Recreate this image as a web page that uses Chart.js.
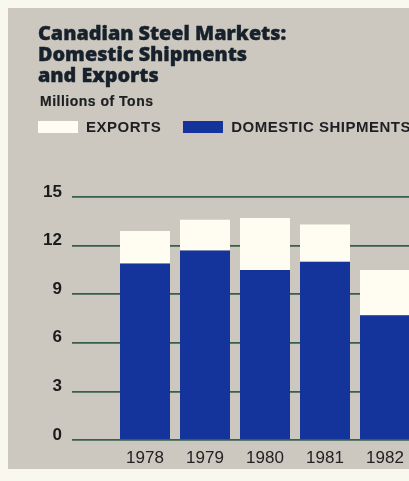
<!DOCTYPE html>
<html>
<head>
<meta charset="utf-8">
<script src="https://cdn.jsdelivr.net/npm/chart.js@4/dist/chart.umd.min.js"></script>
<style>
  html, body { margin: 0; padding: 0; width: 409px; height: 481px; overflow: hidden; background: #f9f8ee; }
  #panel { position: absolute; left: 8px; top: 8px; width: 420px; height: 461px; background: #cdc8bf; }
  #plot { position: absolute; left: 0; top: 0; }
  .title { position: absolute; left: 38px; top: 22px; font: 800 19.8px/21px "Open Sans", sans-serif; -webkit-text-stroke: 0.4px #17212c; color: #17212c; white-space: nowrap; }
  .sub { position: absolute; left: 40px; top: 92.5px; font: bold 14px/16px "Liberation Sans", sans-serif; letter-spacing: 0.5px; -webkit-text-stroke: 0.2px #1d1f22; color: #1d1f22; white-space: nowrap; }
  .legend { position: absolute; left: 38px; top: 118.5px; display: flex; align-items: center; white-space: nowrap; font: bold 15px/16px "Liberation Sans", sans-serif; letter-spacing: 0.5px; color: #1d1f22; }
  .item { display: flex; align-items: center; margin-right: 22px; }
  .sw { display: inline-block; width: 40px; height: 12px; margin-right: 8px; }
</style>
</head>
<body>
<div id="panel"></div>
<canvas id="plot" width="420" height="481"></canvas>
<div class="title">Canadian Steel Markets:<br>Domestic Shipments<br>and Exports</div>
<div class="sub">Millions of Tons</div>
<div class="legend" id="legend"></div>
<script>
// Canadian steel shipments, millions of tons
const years = ['1978', '1979', '1980', '1981', '1982'];
const domesticShipments = [10.9, 11.7, 10.5, 11.0, 7.7];
const exportShipments = [2.0, 1.9, 3.2, 2.3, 2.8];
const yTicks = [0, 3, 6, 9, 12, 15];

const BLUE = '#14349c';
const CREAM = '#fffdf1';
const GRID = '#36604c';

const chart = new Chart(document.getElementById('plot'), {
  type: 'bar',
  data: {
    labels: years,
    datasets: [
      { label: 'DOMESTIC SHIPMENTS', data: domesticShipments, backgroundColor: BLUE },
      { label: 'EXPORTS', data: exportShipments, backgroundColor: CREAM }
    ]
  },
  options: {
    responsive: false,
    animation: false,
    layout: { autoPadding: false, padding: { top: 197, left: 0, right: 5, bottom: 0 } },
    plugins: { legend: { display: false }, title: { display: false }, tooltip: { enabled: false } },
    datasets: { bar: { categoryPercentage: 1, barPercentage: 50 / 60, borderWidth: 0 } },
    scales: {
      x: {
        stacked: true,
        grid: { display: false, drawTicks: false },
        border: { display: false },
        ticks: { padding: 8, color: '#222222', font: { family: 'Liberation Sans', size: 17 } },
        afterFit: s => { s.height = 41; }
      },
      y: {
        stacked: true,
        min: 0,
        max: 15,
        afterBuildTicks: ax => { ax.ticks = yTicks.map(v => ({ value: v })); },
        afterFit: s => { s.width = 115; },
        grid: { color: GRID, lineWidth: 1.8, tickLength: 43, tickColor: GRID, tickWidth: 1.8 },
        border: { display: false },
        ticks: { padding: 10, labelOffset: -5, color: '#1b1b1b', font: { family: 'Liberation Sans', size: 17, weight: 'bold' } }
      }
    }
  }
});

// legend row built from the datasets, exports listed first
const legendEl = document.getElementById('legend');
chart.data.datasets.slice().reverse().forEach(ds => {
  const item = document.createElement('span');
  item.className = 'item';
  const sw = document.createElement('span');
  sw.className = 'sw';
  sw.style.background = ds.backgroundColor;
  item.appendChild(sw);
  item.appendChild(document.createTextNode(ds.label));
  legendEl.appendChild(item);
});
</script>
</body>
</html>
